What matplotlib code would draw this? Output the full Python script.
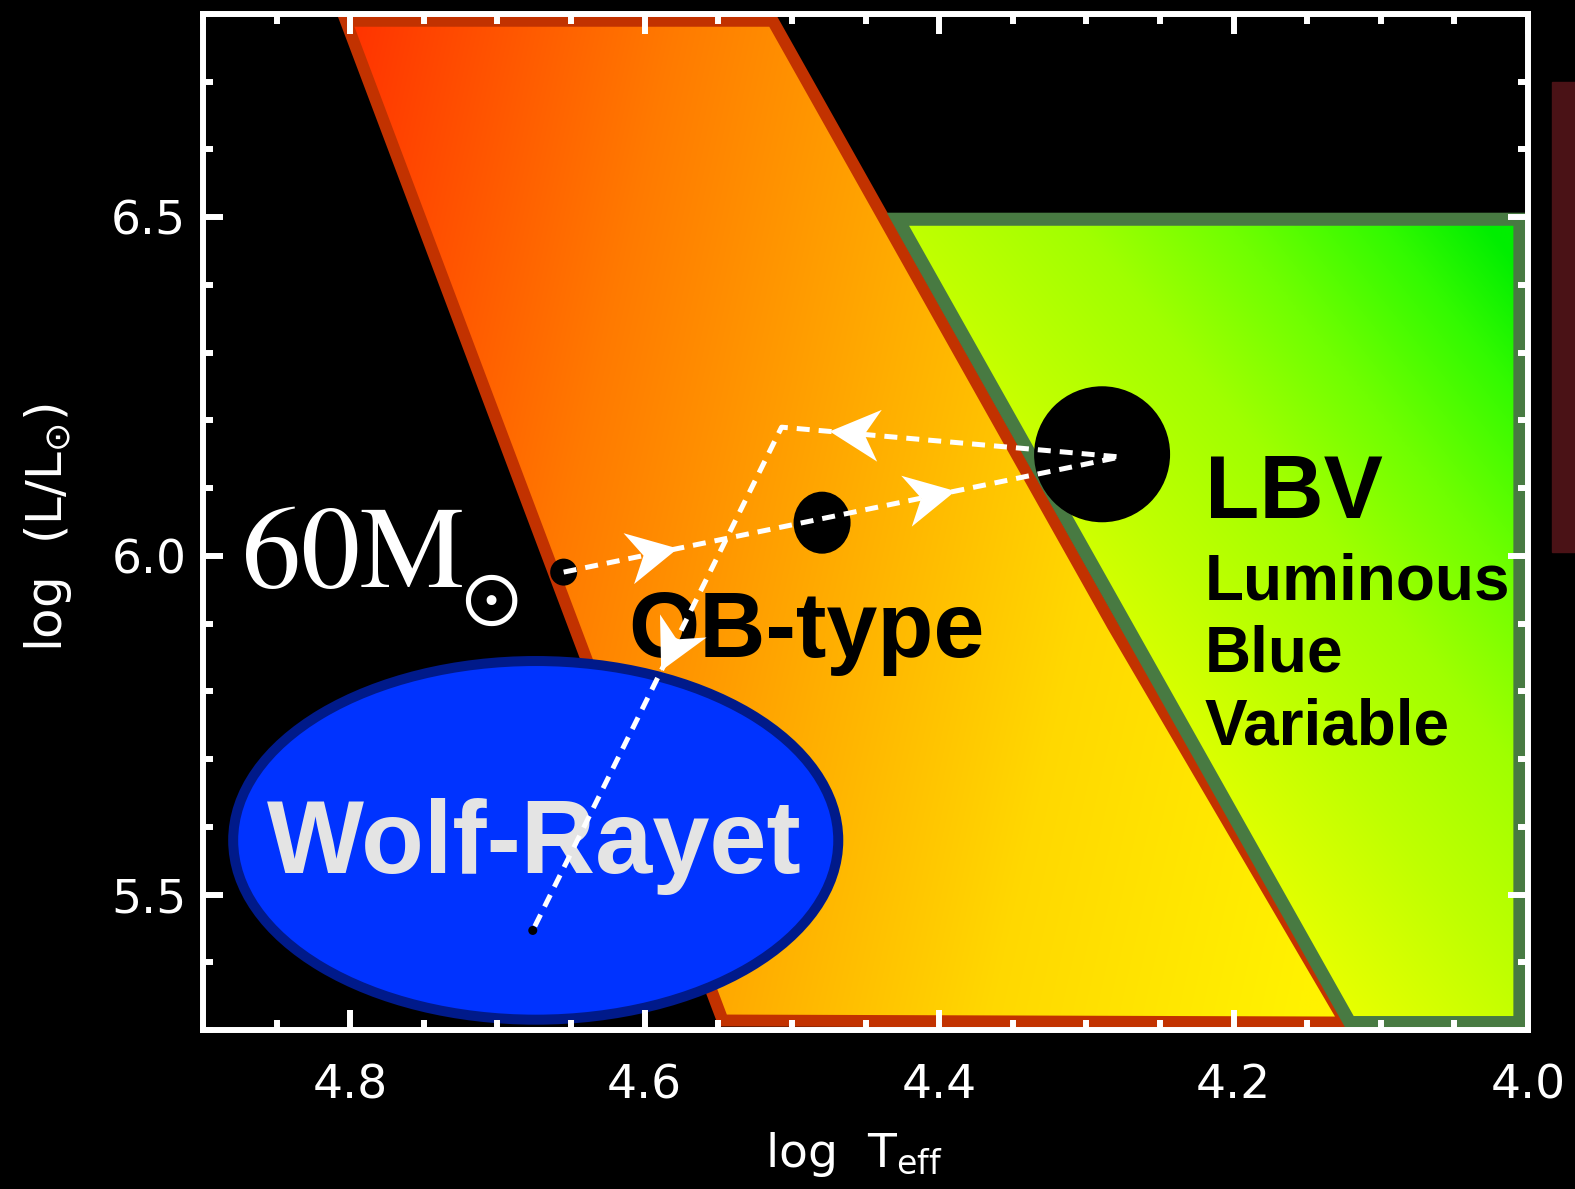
"""
HR diagram sketch: 60 Msun track through OB, LBV and Wolf-Rayet phases
"""
import numpy as np
import matplotlib
matplotlib.use("Agg")
import matplotlib.pyplot as plt
from matplotlib.patches import Polygon, Ellipse, Rectangle
from matplotlib.ticker import MultipleLocator


# region outlines, (log Teff, log L/Lsun)
ob_x = [4.803, 4.513, 4.282, 4.124, 4.547]
ob_y = [6.79, 6.79, 5.897, 5.311, 5.314]
lbv_x = [4.428, 4.0055, 4.0055, 4.121]
lbv_y = [6.497, 6.497, 5.311, 5.311]

# Wolf-Rayet ellipse
wr_center = (4.674, 5.580)
wr_width = 0.411
wr_height = 0.5295

# evolutionary track of the 60 Msun star
track_x = [4.655, 4.277, 4.507, 4.676]
track_y = [5.976, 6.146, 6.190, 5.447]
# arrowheads: segment index and fraction along that segment
arrow_seg = [0, 0, 1, 2]
arrow_frac = [0.205, 0.704, 0.858, 0.484]

# black markers on the track
star_x = [4.655, 4.4795, 4.2893, 4.676]
star_y = [5.976, 6.049, 6.150, 5.447]

xticks = [4.8, 4.6, 4.4, 4.2, 4.0]
yticks = [5.5, 6.0, 6.5]

fig = plt.figure(figsize=(15.75, 11.89), dpi=100, facecolor="black")
ax = fig.add_axes([203 / 1575, 1 - 1030 / 1189, 1325 / 1575, 1016 / 1189])
ax.set_facecolor("black")

# gradient fills, computed over the axes area (pixel based directions)
H, W = 400, 500
U, V = np.meshgrid(np.linspace(0, 1, W), np.linspace(0, 1, H))

s_ob = 429.6 + 1325 * U - 223.5 * V
ob_rgb = np.dstack([
    np.full_like(s_ob, 255),
    np.interp(s_ob, [350, 680, 976, 1214, 1520], [50, 122, 175, 216, 242]),
    np.zeros_like(s_ob),
]) / 255

s_lbv = -621 + 1325 * U + 812.8 * V
lbv_rgb = np.dstack([
    np.interp(s_lbv, [537, 727, 902, 1054, 1204, 1309], [232, 192, 160, 110, 50, 0]),
    np.interp(s_lbv, [537, 727, 902, 1054, 1204, 1309], [255, 255, 255, 255, 250, 238]),
    np.zeros_like(s_lbv),
]) / 255

extent = (4.9, 4.0, 5.3, 6.8)

ob_patch = Polygon(np.column_stack([ob_x, ob_y]), closed=True, facecolor="none",
                   edgecolor="#c23200", lw=8.6, joinstyle="miter", zorder=1.1)
ax.add_patch(ob_patch)
im = ax.imshow(ob_rgb, extent=extent, origin="lower", aspect="auto",
               interpolation="bilinear", zorder=1.0)
im.set_clip_path(ob_patch)

lbv_patch = Polygon(np.column_stack([lbv_x, lbv_y]), closed=True, facecolor="none",
                    edgecolor="#487a42", lw=9.4, joinstyle="miter", zorder=1.3)
ax.add_patch(lbv_patch)
im2 = ax.imshow(lbv_rgb, extent=extent, origin="lower", aspect="auto",
                interpolation="bilinear", zorder=1.2)
im2.set_clip_path(lbv_patch)

ax.set_xlim(4.9, 4.0)
ax.set_ylim(5.3, 6.8)

ax.add_patch(Ellipse(wr_center, wr_width, wr_height, facecolor="#0033ff",
                     edgecolor="#001a8a", lw=7.2, zorder=1.5))

# pixel scale of data units
p00 = ax.transData.transform((4.0, 5.5))
p11 = ax.transData.transform((5.0, 6.5))
sx = abs(p11[0] - p00[0])
sy = abs(p11[1] - p00[1])

dot_w_px = [27, 57, 136, 9]
dot_h_px = [27, 62, 136, 9]
for x, y, w, h in zip(star_x, star_y, dot_w_px, dot_h_px):
    ax.add_patch(Ellipse((x, y), w / sx, h / sy, facecolor="black",
                         edgecolor="none", zorder=2))

# labels inside the diagram
ax.text(4.675, 5.532, "Wolf-Rayet", color="#e4e4e4", fontsize=74,
        fontweight="bold", family="Liberation Sans", ha="center",
        va="baseline", zorder=3)
ax.text(4.611, 5.851, "OB-type", color="black", fontsize=66,
        fontweight="bold", family="Liberation Sans", ha="left",
        va="baseline", zorder=3)
ax.text(4.2194, 6.056, "LBV", color="black", fontsize=64,
        fontweight="bold", family="Liberation Sans", ha="left",
        va="baseline", zorder=3)
for word, yy in zip(["Luminous", "Blue", "Variable"], [5.935, 5.829, 5.721]):
    ax.text(4.2194, yy, word, color="black", fontsize=46, fontweight="bold",
            family="Liberation Sans", ha="left", va="baseline", zorder=3)
ax.text(4.874, 5.954, r"$\mathrm{60M}$", math_fontfamily="stix",
        fontsize=85, color="white", ha="left", va="baseline", zorder=3)
ax.text(4.705, 5.938, r"$\odot$", math_fontfamily="stix",
        fontsize=56, color="white", ha="center", va="center", zorder=3)

# track
ax.plot(track_x, track_y, color="white", lw=3.6, ls=(0, (2.6, 1.8)),
        dash_capstyle="butt", zorder=4)

# arrowheads, shaped in pixel space
inv = ax.transData.inverted()
for seg, frac in zip(arrow_seg, arrow_frac):
    a = ax.transData.transform((track_x[seg], track_y[seg]))
    b = ax.transData.transform((track_x[seg + 1], track_y[seg + 1]))
    d = (b - a) / np.hypot(*(b - a))
    n = np.array([-d[1], d[0]])
    tip = a + frac * (b - a)
    pts = np.array([tip, tip - 50 * d + 26 * n, tip - 35 * d, tip - 50 * d - 26 * n])
    ax.add_patch(Polygon(inv.transform(pts), closed=True, facecolor="white",
                         edgecolor="none", zorder=5))

# axes styling
ax.set_xticks(xticks)
ax.set_yticks(yticks)
ax.xaxis.set_minor_locator(MultipleLocator(0.05))
ax.yaxis.set_minor_locator(MultipleLocator(0.1))
ax.tick_params(which="both", direction="in", top=True, right=True,
               colors="white", width=4.3, labelsize=34, labelcolor="white")
ax.tick_params(which="major", length=14.4)
ax.tick_params(which="minor", length=7.2)
ax.tick_params(axis="x", pad=24)
ax.tick_params(axis="y", pad=12)
ax.set_axisbelow(False)
for s in ax.spines.values():
    s.set_color("white")
    s.set_linewidth(4.3)
    s.set_zorder(6)

ax.set_xlabel(r"log  T$_{\rm eff}$", color="white", fontsize=34)
ax.xaxis.set_label_coords(0.491, -0.123)
ax.xaxis.label.set_va("center")
ax.set_ylabel(r"log  (L/L$_{\odot}$)", color="white", fontsize=36)
ax.yaxis.set_label_coords(-0.117, 0.494)
ax.yaxis.label.set_va("center")

# strip of an adjacent image at the right border
fig.add_artist(Rectangle((1552 / 1575, 1 - 552 / 1189), 23 / 1575, 470 / 1189,
                         transform=fig.transFigure, color="#4a1216"))

fig.savefig("out.png", dpi=100, facecolor="black")
